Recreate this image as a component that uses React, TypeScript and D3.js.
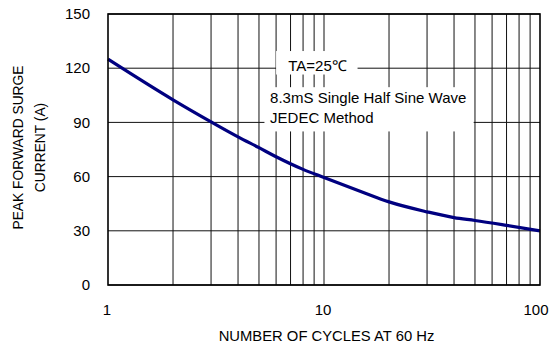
import { useRef, useEffect } from "react";
import * as d3 from "d3";

// number of cycles at 60 Hz vs peak forward surge current (A)
const cycles = [1, 2, 3, 4, 5, 6, 8, 10, 15, 20, 30, 40, 50, 70, 100];
const surge = [125, 102.5, 90.3, 82, 76, 71, 64, 59.5, 51.5, 46, 40.5, 37.3, 35.7, 33, 30];

const yTicks = [0, 30, 60, 90, 120, 150];
const xTickLabels = [1, 10, 100];
const xGrid = [2, 3, 4, 5, 6, 7, 8, 9, 10, 20, 30, 40, 50, 60, 70, 80, 90];

const noteTemp = "TA=25\u2103";
const noteLines = ["8.3mS Single Half Sine Wave", "JEDEC Method"];
const xLabel = "NUMBER OF CYCLES AT 60 Hz";
const yLabelLines = ["PEAK FORWARD SURGE", "CURRENT (A)"];

const width = 551;
const height = 345;
const margin = { top: 14, right: 11, bottom: 60, left: 108 };
const font = "Arial, 'Liberation Sans', sans-serif";

const SurgeChart = () => {
  const svgRef = useRef<SVGSVGElement>(null);

  useEffect(() => {
    const svg = d3.select(svgRef.current);
    svg.selectAll("*").remove();

    const chartWidth = width - margin.left - margin.right;
    const chartHeight = height - margin.top - margin.bottom;

    const xScale = d3.scaleLog().domain([1, 100]).range([0, chartWidth]);
    const yScale = d3.scaleLinear().domain([0, 150]).range([chartHeight, 0]);

    svg.append("rect").attr("width", width).attr("height", height).attr("fill", "#fff");

    const g = svg.append("g").attr("transform", `translate(${margin.left},${margin.top})`);

    // Grid
    g.selectAll(".grid-x")
      .data(xGrid)
      .enter()
      .append("line")
      .attr("x1", (d) => xScale(d))
      .attr("x2", (d) => xScale(d))
      .attr("y1", 0)
      .attr("y2", chartHeight)
      .style("stroke", "#111")
      .style("stroke-width", 1);

    g.selectAll(".grid-y")
      .data(yTicks)
      .enter()
      .append("line")
      .attr("x1", 0)
      .attr("x2", chartWidth)
      .attr("y1", (d) => yScale(d))
      .attr("y2", (d) => yScale(d))
      .style("stroke", "#111")
      .style("stroke-width", 1);

    // Annotation boxes (white background cuts the grid)
    g.append("rect")
      .attr("x", xScale(6.0))
      .attr("y", yScale(129.5))
      .attr("width", xScale(14.3) - xScale(6.0))
      .attr("height", yScale(116.5) - yScale(129.5))
      .attr("fill", "#fff");

    g.append("rect")
      .attr("x", xScale(5.3))
      .attr("y", yScale(109.5))
      .attr("width", xScale(49.3) - xScale(5.3))
      .attr("height", yScale(85) - yScale(109.5))
      .attr("fill", "#fff");

    g.append("text")
      .attr("x", xScale(6.83))
      .attr("y", yScale(118.5))
      .style("font-family", font)
      .style("font-size", "15px")
      .text(noteTemp);

    noteLines.forEach((t, i) => {
      g.append("text")
        .attr("x", xScale(5.63))
        .attr("y", yScale(100.5) + i * 20)
        .style("font-family", font)
        .style("font-size", "15px")
        .text(t);
    });

    // Curve
    const line = d3
      .line<number>()
      .x((_, i) => xScale(cycles[i]))
      .y((d) => yScale(d))
      .curve(d3.curveMonotoneX);

    g.append("path")
      .datum(surge)
      .attr("fill", "none")
      .attr("stroke", "#000080")
      .attr("stroke-width", 3.2)
      .attr("d", line);

    // Frame
    g.append("rect")
      .attr("width", chartWidth)
      .attr("height", chartHeight)
      .attr("fill", "none")
      .attr("stroke", "#000")
      .attr("stroke-width", 1.6);

    // Tick labels
    g.selectAll(".ytick")
      .data(yTicks)
      .enter()
      .append("text")
      .attr("x", -18)
      .attr("y", (d) => yScale(d))
      .attr("dy", "0.35em")
      .attr("text-anchor", "end")
      .style("font-family", font)
      .style("font-size", "15px")
      .text((d) => d);

    g.selectAll(".xtick")
      .data(xTickLabels)
      .enter()
      .append("text")
      .attr("x", (d) => Math.min(xScale(d) - 1, chartWidth - 4))
      .attr("y", chartHeight + 30)
      .attr("text-anchor", "middle")
      .style("font-family", font)
      .style("font-size", "15px")
      .text((d) => d);

    // Axis labels
    g.append("text")
      .attr("x", chartWidth / 2 + 2.5)
      .attr("y", chartHeight + 56)
      .attr("text-anchor", "middle")
      .style("font-family", font)
      .style("font-size", "14.8px")
      .text(xLabel);

    yLabelLines.forEach((t, i) => {
      svg
        .append("text")
        .attr("transform", `translate(${23 + i * 22},${margin.top + chartHeight / 2 - 2}) rotate(-90)`)
        .attr("text-anchor", "middle")
        .style("font-family", font)
        .style("font-size", "13.8px")
        .text(t);
    });
  }, []);

  return (
    <svg
      ref={svgRef}
      width={width}
      height={height}
      style={{ position: "absolute", left: 0, top: 0 }}
    ></svg>
  );
};

export default function App() {
  return <SurgeChart />;
}
